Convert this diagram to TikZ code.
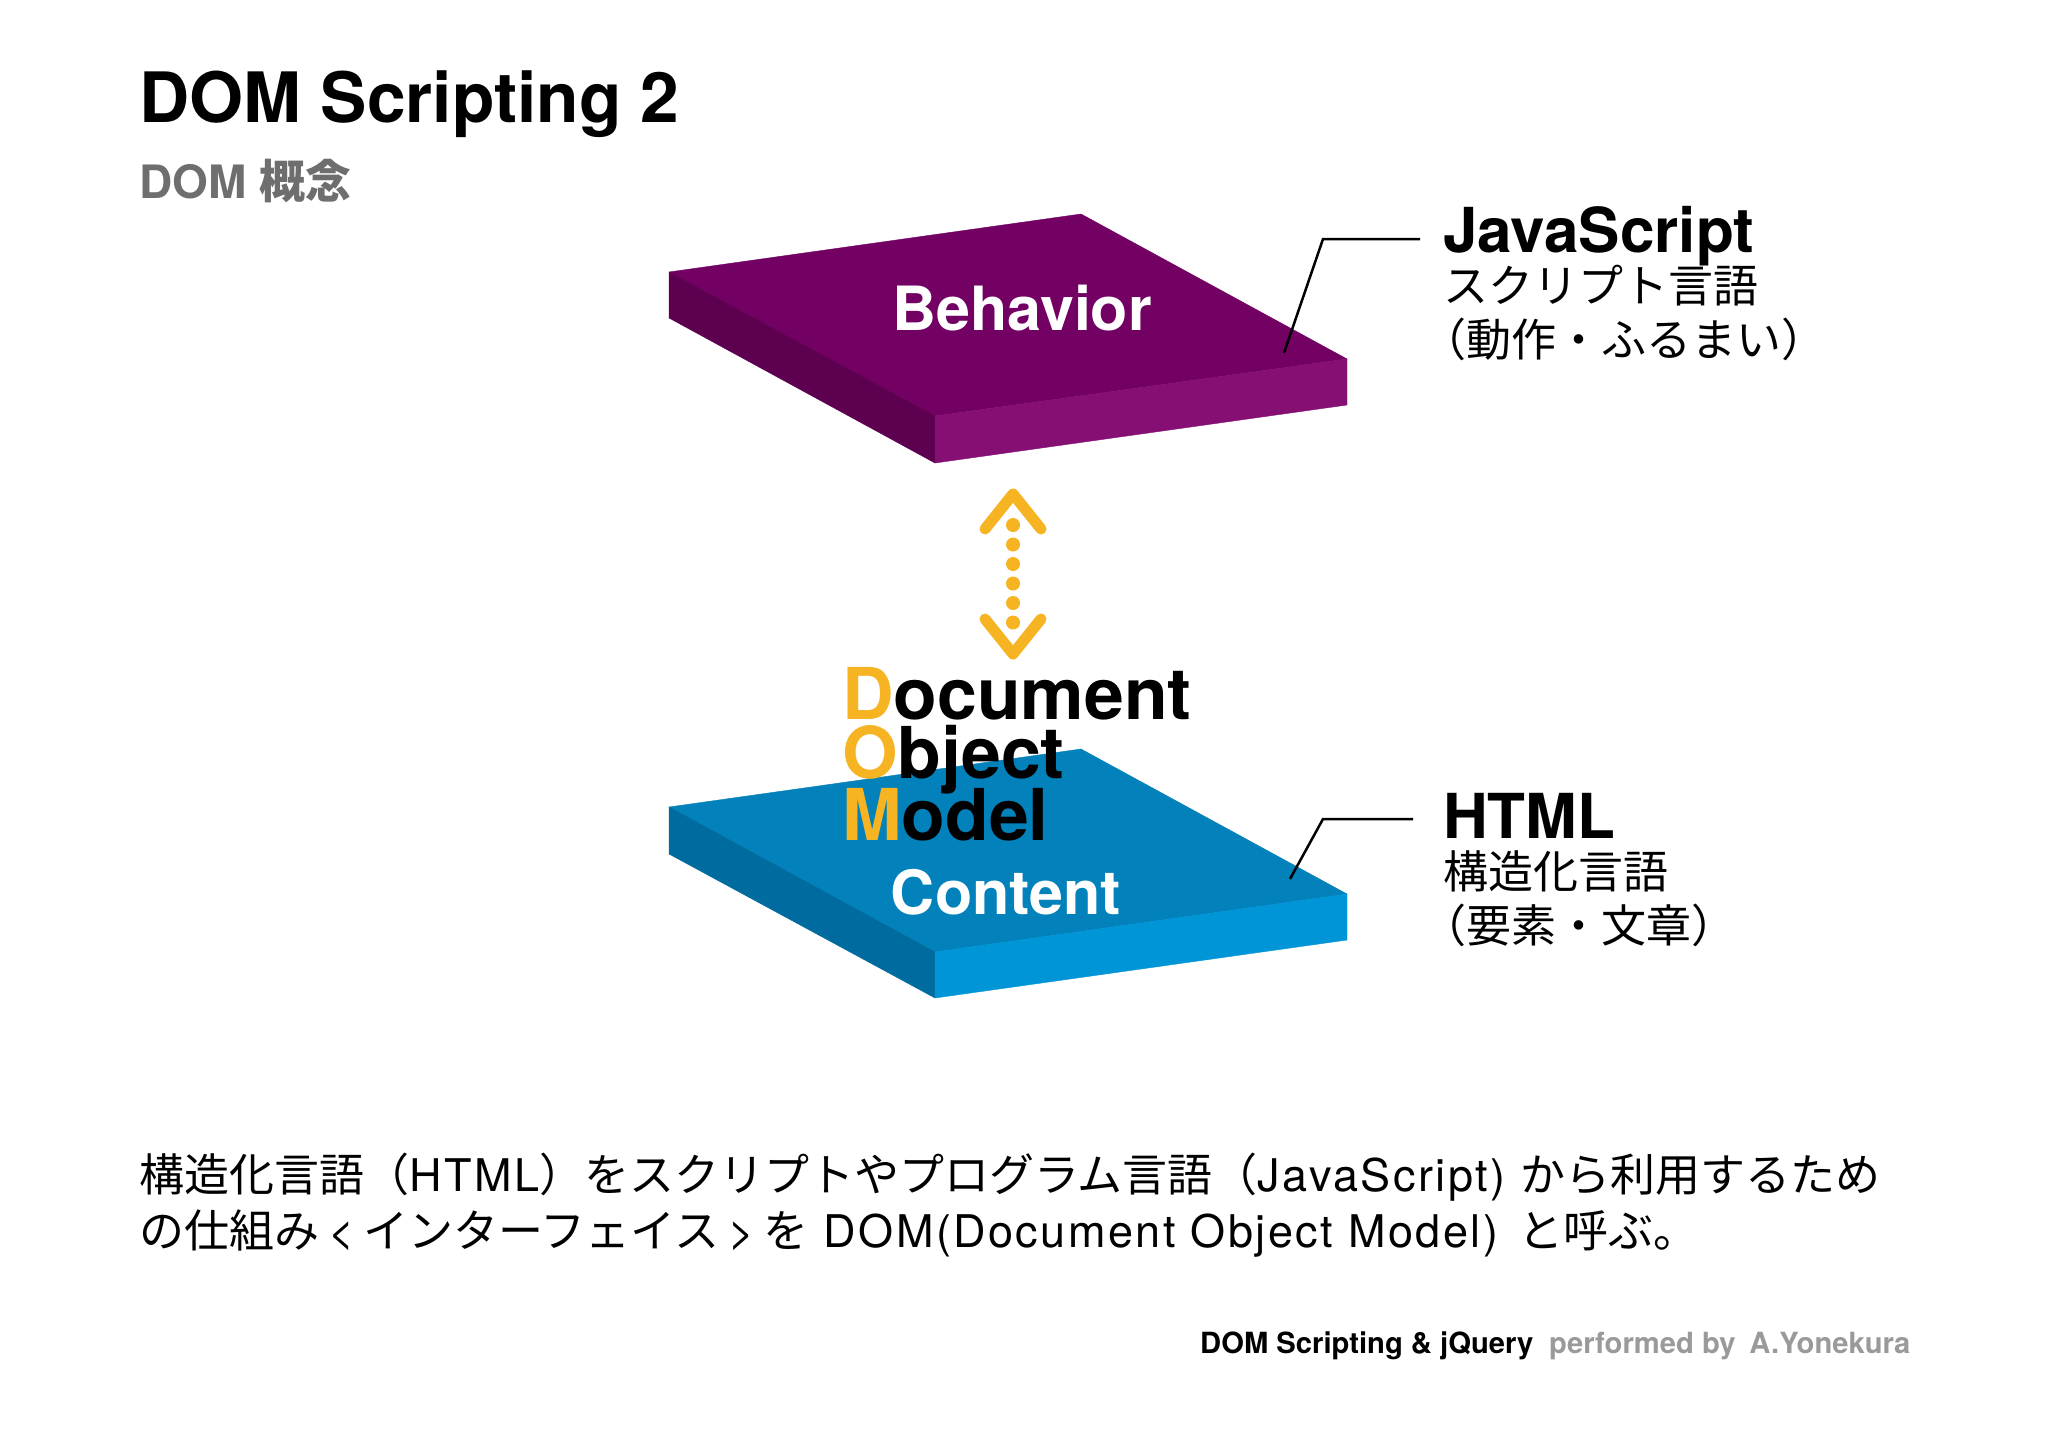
\documentclass[tikz,border=0pt]{standalone}
\usepackage{fontspec}
\setmainfont{TeX Gyre Heros}
\newfontfamily\jp{Noto Sans CJK JP}
\newfontfamily\bodyfont[LetterSpace=5.5]{TeX Gyre Heros}
\definecolor{purpletop}{HTML}{730063}
\definecolor{purplefront}{HTML}{860F74}
\definecolor{purpleside}{HTML}{5E0050}
\definecolor{bluetop}{HTML}{0281BB}
\definecolor{bluefront}{HTML}{0095D6}
\definecolor{blueside}{HTML}{006B9F}
\definecolor{domgold}{HTML}{F6B322}
\definecolor{subgray}{HTML}{6E6E6E}
\definecolor{footgray}{HTML}{9A9A9A}
\tikzset{
 txt/.style={anchor=base west,inner sep=0pt},
 titletxt/.style={txt,font=\fontsize{69.5}{69.5}\selectfont\bfseries},
 subtxt/.style={txt,text=subgray,font=\fontsize{46}{46}\selectfont\bfseries},
 slabtxt/.style={anchor=base,inner sep=0pt,text=white,font=\fontsize{61}{61}\selectfont\bfseries},
 domtxt/.style={txt,font=\fontsize{71.5}{71.5}\selectfont\bfseries},
 latintxt/.style={txt,font=\fontsize{62}{62}\selectfont\bfseries},
 jptxt/.style={txt,font=\fontsize{45}{45}\selectfont\jp},
 bodytxt/.style={txt,font=\fontsize{45}{45}\selectfont\bodyfont},
 foottxt/.style={txt,font=\fontsize{29.2}{29.2}\selectfont\bfseries},
 leader/.style={draw=black,line width=2.5pt},
 chevron/.style={draw=domgold,line width=11pt,line cap=round,line join=round},
 domdots/.style={draw=domgold,line width=14pt,line cap=round,dash pattern=on 0pt off 19.5pt}
}
\begin{document}
\begin{tikzpicture}[x=1pt,y=-1pt]
 \useasboundingbox (0,0) rectangle (2048,1448);
 \fill[white] (0,0) rectangle (2048,1448);
 % headings
 \node[titletxt] (title) at (139,122) {DOM Scripting 2};
 \node[subtxt] (subtitle) at (139,198) {DOM {\jp 概念}};
 % upper slab
 \draw[purpletop,fill=purpletop] (669,272)--(1081,214)--(1347,359)--(935,416)--cycle;
 \draw[purpleside,fill=purpleside] (669,272)--(935,416)--(935,463)--(669,318)--cycle;
 \draw[purplefront,fill=purplefront] (935,416)--(1347,359)--(1347,405)--(935,463)--cycle;
 \node[slabtxt] (behavior) at (1022,330) {Behavior};
 % lower slab
 \draw[bluetop,fill=bluetop] (669,807)--(1081,749)--(1347,894)--(935,952)--cycle;
 \draw[blueside,fill=blueside] (669,807)--(935,952)--(935,998)--(669,854)--cycle;
 \draw[bluefront,fill=bluefront] (935,952)--(1347,894)--(1347,940)--(935,998)--cycle;
 \node[slabtxt] (content) at (1006,914) {Content};
 % double arrow
 \coordinate (dottop) at (1013,525);
 \coordinate (dotbot) at (1013,623);
 \draw[domdots] (dottop) -- (dotbot);
 \draw[chevron] (985,529)--(1013,494)--(1041,529);
 \draw[chevron] (985,619)--(1013,654)--(1041,619);
 % dom words
 \node[domtxt] (document) at (842,719) {{\color{domgold}D}ocument};
 \node[domtxt] (object) at (842,778) {{\color{domgold}O}bject};
 \node[domtxt] (model) at (842,840) {{\color{domgold}M}odel};
 % javascript label
 \coordinate (jsend) at (1420,239);
 \coordinate (jsbend) at (1323,239);
 \coordinate (jstip) at (1284,353);
 \draw[leader] (jsend) -- (jsbend) -- (jstip);
 \node[latintxt] (javascript) at (1443,252) {JavaScript};
 \node[jptxt] (jsname) at (1443,302) {スクリプト言語};
 \node[jptxt] (jsrole) at (1421,356) {（動作・ふるまい）};
 % html label
 \coordinate (htmlend) at (1413,819);
 \coordinate (htmlbend) at (1323,819);
 \coordinate (htmltip) at (1290,879);
 \draw[leader] (htmlend) -- (htmlbend) -- (htmltip);
 \node[latintxt] (html) at (1443,838) {HTML};
 \node[jptxt] (htmlname) at (1443,888) {構造化言語};
 \node[jptxt] (htmlrole) at (1421,942) {（要素・文章）};
 % description
 \node[bodytxt] (bodyone) at (139,1191) {{\jp 構造化言語（}HTML{\jp ）をスクリプトやプログラム言語（}JavaScript) {\jp から利用するため}};
 \node[bodytxt] (bodytwo) at (139,1247) {{\jp の仕組み}\hspace{9pt}<\hspace{9pt}{\jp インターフェイス}\hspace{9pt}>\hspace{9pt}{\jp を} DOM(Document Object Model) \hspace{5pt}{\jp と呼ぶ。}};
 % footer
 \node[foottxt] (footleft) at (1200,1353) {DOM Scripting \& jQuery};
 \node[foottxt,text=footgray] (footright) at (1549,1353) {performed by\hspace{0.2em} A.Yonekura};
\end{tikzpicture}
\end{document}
